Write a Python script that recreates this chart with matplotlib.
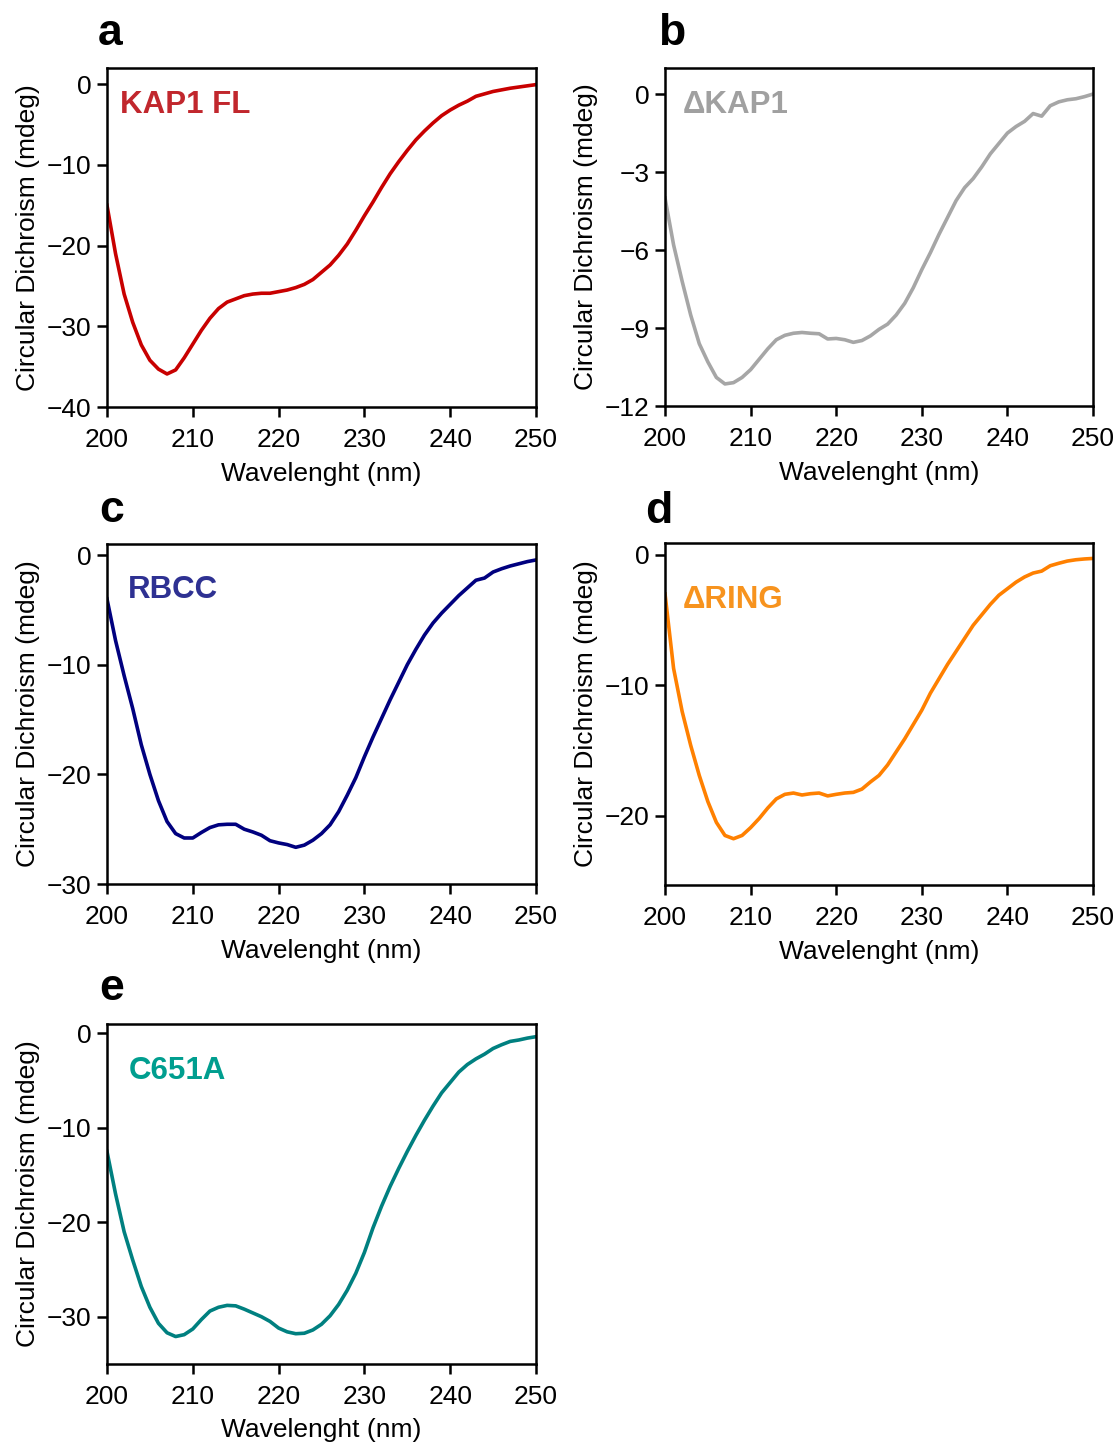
import matplotlib
matplotlib.use('Agg')
import matplotlib.pyplot as plt
import numpy as np

plt.rcParams['font.family'] = ['Liberation Sans', 'DejaVu Sans']

# wavelengths scanned, 1 nm steps
wavelength = np.arange(200, 251)

kap1_fl = [-15.0, -21.0, -26.0, -29.5, -32.3, -34.2, -35.3, -35.9, -35.4, -33.9,
           -32.2, -30.5, -29.0, -27.8, -27.0, -26.6, -26.2, -26.0, -25.9, -25.9,
           -25.7, -25.5, -25.2, -24.8, -24.2, -23.3, -22.4, -21.2, -19.8, -18.1,
           -16.3, -14.6, -12.8, -11.1, -9.6, -8.2, -6.9, -5.8, -4.8, -3.9,
           -3.2, -2.6, -2.1, -1.5, -1.2, -0.9, -0.7, -0.5, -0.35, -0.2, -0.05]

delta_kap1 = [-4.0, -5.8, -7.2, -8.5, -9.6, -10.3, -10.9, -11.15, -11.1, -10.9,
              -10.6, -10.2, -9.8, -9.45, -9.28, -9.2, -9.17, -9.2, -9.22, -9.42,
              -9.4, -9.45, -9.55, -9.48, -9.3, -9.05, -8.85, -8.5, -8.05, -7.45,
              -6.75, -6.1, -5.4, -4.75, -4.1, -3.6, -3.25, -2.8, -2.3, -1.9,
              -1.5, -1.25, -1.05, -0.75, -0.85, -0.45, -0.3, -0.22, -0.18, -0.1, 0.0]

rbcc = [-4.0, -7.8, -11.0, -14.0, -17.3, -20.0, -22.4, -24.3, -25.4, -25.8,
        -25.8, -25.3, -24.85, -24.6, -24.55, -24.55, -25.0, -25.25, -25.55, -26.05,
        -26.25, -26.4, -26.65, -26.45, -26.0, -25.4, -24.6, -23.4, -21.9, -20.3,
        -18.4, -16.6, -14.9, -13.2, -11.6, -10.0, -8.6, -7.3, -6.2, -5.3,
        -4.5, -3.7, -3.0, -2.3, -2.1, -1.55, -1.25, -1.0, -0.8, -0.6, -0.45]

delta_ring = [-3.0, -8.7, -12.0, -14.6, -16.9, -18.9, -20.5, -21.5, -21.75, -21.5,
              -20.9, -20.2, -19.4, -18.7, -18.35, -18.25, -18.4, -18.3, -18.25, -18.47,
              -18.35, -18.25, -18.2, -17.95, -17.4, -16.9, -16.1, -15.1, -14.1, -13.0,
              -11.9, -10.6, -9.5, -8.4, -7.4, -6.4, -5.4, -4.6, -3.8, -3.1,
              -2.6, -2.1, -1.7, -1.4, -1.25, -0.84, -0.65, -0.48, -0.38, -0.32, -0.28]

c651a = [-12.5, -17.0, -21.0, -24.0, -26.8, -29.0, -30.7, -31.7, -32.1, -31.9,
         -31.3, -30.3, -29.4, -29.0, -28.8, -28.85, -29.2, -29.6, -30.0, -30.5,
         -31.2, -31.6, -31.8, -31.75, -31.4, -30.8, -29.9, -28.7, -27.2, -25.4,
         -23.2, -20.6, -18.3, -16.2, -14.3, -12.5, -10.8, -9.2, -7.7, -6.3,
         -5.2, -4.1, -3.3, -2.7, -2.2, -1.6, -1.2, -0.85, -0.7, -0.5, -0.35]

names = ['KAP1 FL', '\u0394KAP1', 'RBCC', '\u0394RING', 'C651A']
letters = ['a', 'b', 'c', 'd', 'e']
spectra = [kap1_fl, delta_kap1, rbcc, delta_ring, c651a]
y_ticks = [[0, -10, -20, -30, -40], [0, -3, -6, -9, -12], [0, -10, -20, -30],
           [0, -10, -20], [0, -10, -20, -30]]
x_ticks = [200, 210, 220, 230, 240, 250]

line_colors = ['#c80000', '#a6a6a6', '#00007f', '#ff8000', '#008080']
name_colors = ['#c1272d', '#a0a0a0', '#2e3192', '#f7931e', '#009e8f']
y_limits = [(-40, 2), (-12, 1), (-30, 1), (-25.3, 0.9), (-35, 1)]

# axes rectangles [left, bottom, width, height] in figure fractions
rects = [[0.0956, 0.7183, 0.3834, 0.2346],
         [0.5943, 0.7190, 0.3825, 0.2339],
         [0.0956, 0.3882, 0.3834, 0.2353],
         [0.5943, 0.3875, 0.3825, 0.2367],
         [0.0956, 0.0561, 0.3834, 0.2353]]
name_pos = [(0.030, 0.867), (0.042, 0.867), (0.049, 0.841), (0.042, 0.810), (0.051, 0.838)]
letter_pos = [(98, 45), (658, 45), (99, 522), (645, 523), (99, 1000)]

fig = plt.figure(figsize=(11.19, 14.45), dpi=100)

for i in range(5):
    ax = fig.add_axes(rects[i])
    ax.plot(wavelength, spectra[i], color=line_colors[i], lw=2.6, solid_joinstyle='round')
    ax.set_xlim(200, 250)
    ax.set_ylim(*y_limits[i])
    ax.set_xticks(x_ticks)
    ax.set_yticks(y_ticks[i])
    ax.tick_params(direction='out', length=7, width=1.8, labelsize=19)
    ax.tick_params(axis='x', pad=8)
    ax.tick_params(axis='y', pad=4)
    for s in ax.spines.values():
        s.set_linewidth(1.8)
    ax.set_xlabel('Wavelenght (nm)', fontsize=19, labelpad=7)
    ax.set_ylabel('Circular Dichroism (mdeg)', fontsize=19, labelpad=5)
    ax.text(name_pos[i][0], name_pos[i][1], names[i], transform=ax.transAxes,
            color=name_colors[i], fontsize=22.5, fontweight='bold', va='baseline', ha='left')
    fig.text(letter_pos[i][0] / 1119, 1 - letter_pos[i][1] / 1445, letters[i],
             fontsize=32, fontweight='bold', va='baseline', ha='left')

fig.savefig('out.png', dpi=100)
plt.close(fig)
